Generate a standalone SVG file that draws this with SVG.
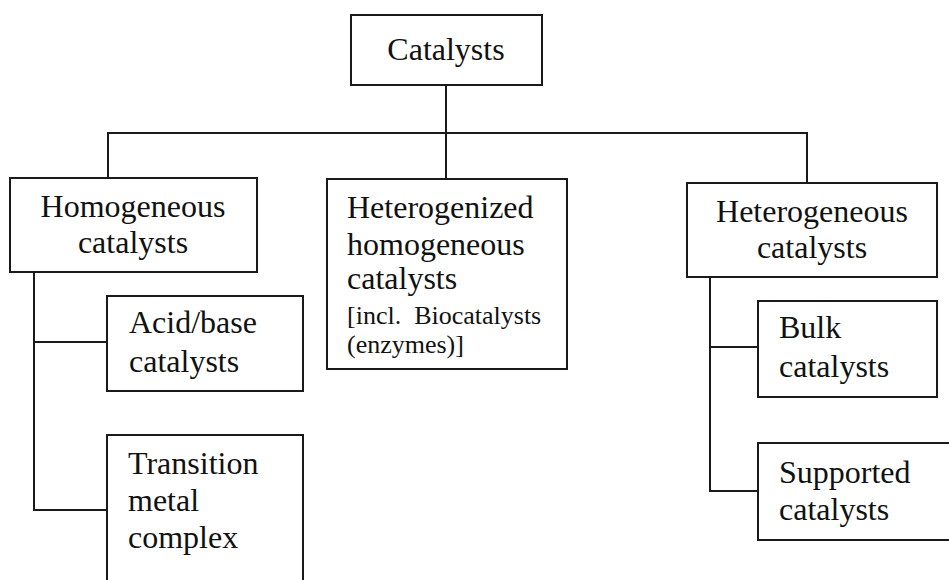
<svg xmlns="http://www.w3.org/2000/svg" width="949" height="580" viewBox="0 0 949 580">
<style>
.box{fill:#fff;stroke:#1a1a1a;stroke-width:2}
.ln{fill:none;stroke:#1a1a1a;stroke-width:2}
text{font-family:"Liberation Serif","Times New Roman",serif;fill:#111;font-size:32px}
.c{text-anchor:middle}
.s{font-size:26px}
</style>
<rect width="949" height="580" fill="#fff"/>
<g id="connectors">
<path class="ln" d="M446,85 V179"/>
<path class="ln" d="M108,178 V133 H807 V183"/>
<path class="ln" d="M34,272 V510 H107"/>
<path class="ln" d="M34,342 H107"/>
<path class="ln" d="M710,277 V491 H758"/>
<path class="ln" d="M710,347 H758"/>
</g>
<g id="catalysts">
<rect class="box" x="351" y="15" width="191" height="70"/>
<text class="c" x="446" y="60">Catalysts</text>
</g>
<g id="homogeneous">
<rect class="box" x="10" y="178" width="247" height="94"/>
<text class="c" x="133" y="217">Homogeneous</text>
<text class="c" x="133" y="253">catalysts</text>
</g>
<g id="heterogenized">
<rect class="box" x="327" y="179" width="240" height="190"/>
<text x="347" y="218">Heterogenized</text>
<text x="347" y="255">homogeneous</text>
<text x="347" y="289">catalysts</text>
<text class="s" x="347" y="324" xml:space="preserve">[incl.  Biocatalysts</text>
<text class="s" x="347" y="353">(enzymes)]</text>
</g>
<g id="heterogeneous">
<rect class="box" x="687" y="183" width="250" height="94"/>
<text class="c" x="812" y="222">Heterogeneous</text>
<text class="c" x="812" y="258">catalysts</text>
</g>
<g id="acidbase">
<rect class="box" x="107" y="296" width="196" height="95"/>
<text x="129" y="333">Acid/base</text>
<text x="129" y="372">catalysts</text>
</g>
<g id="transition">
<rect class="box" x="107" y="435" width="196" height="160"/>
<text x="128" y="474">Transition</text>
<text x="128" y="511">metal</text>
<text x="128" y="548">complex</text>
</g>
<g id="bulk">
<rect class="box" x="758" y="301" width="179" height="96"/>
<text x="779" y="338">Bulk</text>
<text x="779" y="377">catalysts</text>
</g>
<g id="supported">
<rect class="box" x="758" y="443" width="200" height="97"/>
<text x="779" y="483">Supported</text>
<text x="779" y="520">catalysts</text>
</g>
</svg>
